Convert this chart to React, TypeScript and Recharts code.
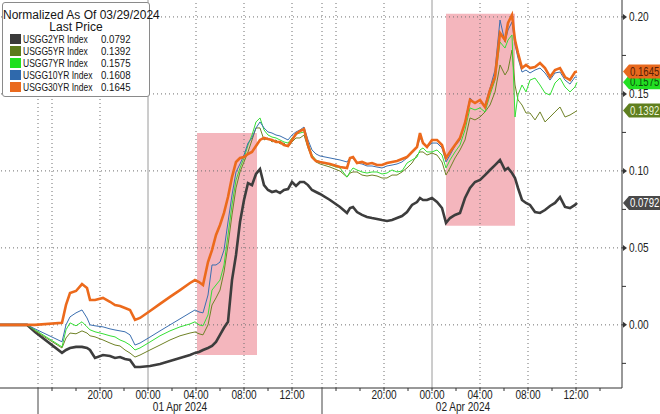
import React from 'react';
import { LineChart, Line, XAxis, YAxis, ReferenceArea, ReferenceLine } from 'recharts';

// x: minutes since 01 Apr 2024 00:00 on the session-compressed intraday axis
const minutes = [
  -740, -605, -565, -430, -410, -390, -360, -330, -305, -290, -265, -225, -190, -165, -140, -115, -90, -65, -40,
  10, 60, 110, 160, 210, 235, 255, 275, 300, 320, 340, 360, 380, 400, 420, 440, 460, 480, 500, 520, 540, 560,
  580, 600, 620, 640, 660, 680, 700, 720, 740, 760, 780, 800, 820, 840, 860, 910, 960, 995, 1010, 1025, 1045,
  1070, 1095, 1120, 1145, 1170, 1195, 1220, 1245, 1270, 1295, 1320, 1345, 1360, 1375, 1395, 1420, 1445, 1470,
  1490, 1510, 1535, 1560, 1585, 1610, 1635, 1660, 1685, 1710, 1735, 1760, 1785, 1800, 1820, 1835, 1850, 1870,
  1890, 1910, 1935, 1960, 1985, 2010, 2035, 2060, 2085, 2110, 2135, 2145,
];

const usgg2yr = [
  0, 0, -0.0046, -0.0182, -0.0163, -0.015, -0.0143, -0.0143, -0.015, -0.0163, -0.0215, -0.0196, -0.0202, -0.0215, -0.0209, -0.0222, -0.0228, -0.0274, -0.0274,
  -0.0267, -0.0254, -0.0235, -0.0215, -0.0196, -0.0182, -0.0176, -0.0163, -0.015, -0.0137, -0.0111, -0.0065, -0.0019, 0.002, 0.0291, 0.0454, 0.0668, 0.0811, 0.0921, 0.0908, 0.098, 0.1012,
  0.0908, 0.0876, 0.0863, 0.087, 0.0856, 0.0876, 0.0882, 0.0928, 0.0902, 0.0928, 0.0928, 0.0908, 0.0876, 0.0863, 0.085, 0.0811, 0.0766, 0.0727, 0.0759, 0.0766, 0.0733,
  0.0714, 0.0701, 0.0694, 0.0688, 0.0681, 0.0675, 0.0681, 0.0694, 0.0707, 0.0733, 0.0779, 0.0798, 0.0824, 0.0811, 0.0811, 0.0824, 0.0798, 0.0759,
  0.0662, 0.0694, 0.0714, 0.0727, 0.0824, 0.0889, 0.0928, 0.0941, 0.0973, 0.1006, 0.1038, 0.1071, 0.1006, 0.1019, 0.0986, 0.0954, 0.0889, 0.0811,
  0.0792, 0.0779, 0.0733, 0.0727, 0.0746, 0.0772, 0.0792, 0.083, 0.0766, 0.0759, 0.0779, 0.0792,
];

const usgg5yr = [
  0, 0, -0.0039, -0.015, -0.0085, -0.0053, -0.0058, -0.0039, -0.0053, -0.0071, -0.0078, -0.0098, -0.0118, -0.0131, -0.0137, -0.0163, -0.0183, -0.0209, -0.0196,
  -0.0163, -0.0131, -0.0098, -0.0071, -0.0053, -0.0046, -0.0058, -0.0065, 0, 0.0129, 0.0175, 0.0226, 0.0343, 0.0519, 0.0714, 0.0889, 0.0993, 0.1058, 0.1123, 0.1201, 0.1279, 0.1279,
  0.1201, 0.1214, 0.1188, 0.1201, 0.1175, 0.1181, 0.1155, 0.1188, 0.1214, 0.1214, 0.1233, 0.1149, 0.1084, 0.1058, 0.1045, 0.1025, 0.0999, 0.096, 0.0986, 0.0993, 0.0993,
  0.0973, 0.0967, 0.0973, 0.0967, 0.0954, 0.0954, 0.0973, 0.0973, 0.0993, 0.1019, 0.1051, 0.1103, 0.1123, 0.1123, 0.1103, 0.1116, 0.1103, 0.1058,
  0.0973, 0.1019, 0.1084, 0.1136, 0.1201, 0.1344, 0.1331, 0.135, 0.1383, 0.1428, 0.1512, 0.1688, 0.1623, 0.1655, 0.1785, 0.1558, 0.1461, 0.1428,
  0.1376, 0.1376, 0.1331, 0.1383, 0.1318, 0.135, 0.1383, 0.1415, 0.135, 0.1363, 0.1383, 0.1392,
];

const usgg7yr = [
  0, 0, -0.0032, -0.0143, -0.0032, 0.0013, -0.0006, 0.002, -0.0013, -0.0032, -0.0045, -0.0058, -0.0071, -0.0078, -0.0098, -0.0111, -0.0131, -0.0163, -0.015,
  -0.0111, -0.0071, -0.0039, -0.0013, 0.0006, 0.002, 0, -0.0006, 0.0065, 0.0226, 0.0259, 0.0291, 0.0389, 0.0584, 0.0779, 0.0941, 0.1019, 0.1084, 0.1168, 0.1233, 0.1318, 0.1344,
  0.1266, 0.1233, 0.122, 0.1214, 0.1201, 0.1188, 0.1181, 0.1214, 0.124, 0.1246, 0.1253, 0.1181, 0.1103, 0.1071, 0.1058, 0.1038, 0.1019, 0.096, 0.0993, 0.1019, 0.1006,
  0.0993, 0.0986, 0.0993, 0.0993, 0.098, 0.0986, 0.1006, 0.0993, 0.0999, 0.1051, 0.1071, 0.109, 0.1136, 0.1149, 0.1123, 0.1123, 0.1136, 0.1103,
  0.1019, 0.1071, 0.1123, 0.1168, 0.1266, 0.1409, 0.1396, 0.1409, 0.1383, 0.1493, 0.159, 0.1837, 0.1798, 0.185, 0.1883, 0.135, 0.1493, 0.1558,
  0.1513, 0.159, 0.1603, 0.1558, 0.1506, 0.1493, 0.1571, 0.1603, 0.1545, 0.1513, 0.1545, 0.1575,
];

const usgg10yr = [
  0, 0, -0.0026, -0.011, 0, 0.0052, 0.0078, 0.0097, 0.0045, 0, -0.0006, -0.0013, -0.0026, -0.0033, -0.0039, -0.0045, -0.0065, -0.0131, -0.0118,
  -0.0079, -0.0039, 0, 0.0039, 0.0078, 0.0097, 0.0084, 0.0078, 0.0194, 0.0389, 0.0389, 0.0408, 0.0486, 0.0668, 0.0843, 0.0993, 0.1045, 0.1103, 0.1181, 0.1214, 0.1279, 0.1318,
  0.1279, 0.1253, 0.1246, 0.1233, 0.1227, 0.1214, 0.1201, 0.1233, 0.1253, 0.1266, 0.1285, 0.1201, 0.1136, 0.111, 0.1097, 0.1084, 0.1071, 0.1058, 0.1084, 0.1084, 0.1051,
  0.1045, 0.1032, 0.1032, 0.1025, 0.1019, 0.1032, 0.1038, 0.1045, 0.1058, 0.1084, 0.1116, 0.1149, 0.1214, 0.1181, 0.1155, 0.1181, 0.1181, 0.1149,
  0.1058, 0.1103, 0.1162, 0.1201, 0.1318, 0.1474, 0.1441, 0.1461, 0.1428, 0.1538, 0.1655, 0.198, 0.1837, 0.1915, 0.1967, 0.1818, 0.1733, 0.1642,
  0.1655, 0.1636, 0.1655, 0.1668, 0.1636, 0.159, 0.1636, 0.1642, 0.159, 0.1564, 0.161, 0.1608,
];

const usgg30yr = [
  0, 0, 0, 0.0013, 0.013, 0.0207, 0.022, 0.0265, 0.024, 0.0162, 0.0162, 0.0175, 0.015, 0.0129, 0.0123, 0.011, 0.0097, 0.0032, 0.0045,
  0.009, 0.0136, 0.0182, 0.0226, 0.0272, 0.0291, 0.0278, 0.0259, 0.0408, 0.0486, 0.0584, 0.0649, 0.0727, 0.083, 0.096, 0.1058, 0.1084, 0.109, 0.111, 0.1123, 0.1162, 0.1201,
  0.1214, 0.1207, 0.1201, 0.1188, 0.1188, 0.1168, 0.1162, 0.1201, 0.124, 0.1259, 0.1272, 0.1168, 0.109, 0.1064, 0.1058, 0.1045, 0.1025, 0.1019, 0.1084, 0.109, 0.1051,
  0.1058, 0.1045, 0.1051, 0.1038, 0.1038, 0.1051, 0.1058, 0.1064, 0.1077, 0.109, 0.1123, 0.1155, 0.1246, 0.1181, 0.1155, 0.1201, 0.1201, 0.1168,
  0.1084, 0.1123, 0.1168, 0.1214, 0.1311, 0.1461, 0.1441, 0.1461, 0.1415, 0.1525, 0.161, 0.1896, 0.185, 0.1961, 0.2013, 0.185, 0.1766, 0.1668,
  0.1688, 0.1668, 0.1675, 0.1701, 0.1668, 0.161, 0.1655, 0.1668, 0.161, 0.159, 0.1642, 0.1645,
];

const seriesKeys = ['usgg2yr', 'usgg5yr', 'usgg7yr', 'usgg10yr', 'usgg30yr'];
const seriesNames = ['USGG2YR Index', 'USGG5YR Index', 'USGG7YR Index', 'USGG10YR Index', 'USGG30YR Index'];
const lastPrices = [0.0792, 0.1392, 0.1575, 0.1608, 0.1645];
const seriesColors = ['#3d3d3d', '#6f8226', '#35e035', '#3b6fb0', '#ec6a1c'];
const swatchColors = ['#3a3a3a', '#5b7a1c', '#1fe01f', '#2f69ac', '#ea6a1e'];
const seriesWidths = [2.6, 1, 1, 1, 2.6];
const tagFills = ['#4a4a4a', '#5f7f1f', '#22e022', null, '#e8691e'];
const tagTexts = ['#ffffff', '#eef5d8', '#0b4d0b', null, '#5a1e05'];

const legendTitle = 'Normalized As Of 03/29/2024';
const legendSubtitle = 'Last Price';

const timeTicks = [-480, -360, -240, -120, 0, 120, 240, 360, 480, 600, 720, 940, 1060, 1180, 1300, 1420, 1540, 1660, 1780, 1900, 2020, 2140, 2260];
const timeTickLabels: Record<number, string> = {
  [-240]: '20:00', 0: '00:00', 240: '04:00', 480: '08:00', 720: '12:00',
  1180: '20:00', 1420: '00:00', 1660: '04:00', 1900: '08:00', 2140: '12:00',
};
const dateTicks = [160, 1575];
const dateLabels = ['01 Apr 2024', '02 Apr 2024'];
const sessionBreaks = [-550, 870];
const dayStarts = [0, 1420];
const gridTimes = [-550, -480, -240, 240, 480, 720, 870, 940, 1180, 1660, 1900, 2140];
const valueTicks = [-0.025, 0, 0.025, 0.05, 0.075, 0.1, 0.125, 0.15, 0.175, 0.2];
const gridValues = [0, 0.05, 0.1, 0.15, 0.2];
const highlightWindows = [
  { x1: 245, x2: 545, y1: -0.0196, y2: 0.1246 },
  { x1: 1490, x2: 1835, y1: 0.0643, y2: 0.202 },
];

const data = minutes.map((m, i) => ({
  m,
  usgg2yr: usgg2yr[i],
  usgg5yr: usgg5yr[i],
  usgg7yr: usgg7yr[i],
  usgg10yr: usgg10yr[i],
  usgg30yr: usgg30yr[i],
}));

const FONT = "'Liberation Sans', Arial, sans-serif";
const X_DOMAIN: [number, number] = [-740, 2370];
const Y_DOMAIN: [number, number] = [-0.041, 0.211];

const NarrowText = (p: any) => {
  const { x, y, sx, anchor, size, color, children } = p;
  return (
    <text
      x={x}
      y={y}
      textAnchor={anchor || 'start'}
      fontSize={size || 12}
      fontFamily={FONT}
      fill={color || '#222'}
      transform={`translate(${x},0) scale(${sx},1) translate(${-x},0)`}
    >
      {children}
    </text>
  );
};

const ValueTick = (props: any) => {
  const { x, y, payload } = props;
  const v = payload.value as number;
  const major = Math.abs(Math.round(v / 0.05) * 0.05 - v) < 1e-9;
  if (!major) {
    return <line x1={x} x2={x + 4} y1={y} y2={y} stroke="#333" strokeWidth={1} />;
  }
  return (
    <g>
      <line x1={x} x2={x + 2} y1={y} y2={y} stroke="#333" />
      <path d={`M${x + 1},${y - 3} L${x + 5},${y} L${x + 1},${y + 3} Z`} fill="#333" />
      <NarrowText x={x + 7} y={y + 4} sx={0.84}>{v.toFixed(2)}</NarrowText>
    </g>
  );
};

const TimeTick = (props: any) => {
  const { x, y, payload } = props;
  const label = timeTickLabels[payload.value as number];
  if (!label) return null;
  return <NarrowText x={x} y={y + 7} sx={0.84} anchor="middle">{label}</NarrowText>;
};

const DateTick = (props: any) => {
  const { x, y, payload } = props;
  const v = payload.value as number;
  if (sessionBreaks.indexOf(v) >= 0) {
    return <line x1={x} x2={x} y1={y - 14} y2={y + 12} stroke="#444" strokeWidth={1} />;
  }
  const di = dateTicks.indexOf(v);
  if (di < 0) return null;
  return <NarrowText x={x} y={y + 9} sx={0.84} anchor="middle">{dateLabels[di]}</NarrowText>;
};

const makeTag = (i: number) => (props: any) => {
  const vb = props.viewBox;
  if (!vb) return null;
  const x = vb.x + vb.width;
  const y = vb.y;
  return (
    <g>
      <path d={`M${x + 1},${y} L${x + 7},${y - 7} H660 V${y + 7} H${x + 7} Z`} fill={tagFills[i] as string} />
      <NarrowText x={x + 8} y={y + 4} sx={0.8} color={tagTexts[i]}>{lastPrices[i].toFixed(4)}</NarrowText>
    </g>
  );
};

export default function App() {
  const tagOrder = [0, 1, 2, 4];
  return (
    <div style={{ position: 'absolute', left: 0, top: 0, width: 660, height: 414, background: '#fff', overflow: 'hidden' }}>
      <LineChart width={660} height={414} data={data} margin={{ top: 0, right: 0, bottom: 0, left: 0 }}>
        <XAxis
          dataKey="m"
          type="number"
          domain={X_DOMAIN}
          allowDataOverflow
          ticks={timeTicks}
          interval={0}
          tick={<TimeTick />}
          tickSize={3}
          tickMargin={1}
          height={14}
          axisLine={{ stroke: '#333' }}
          tickLine={{ stroke: '#333' }}
        />
        <XAxis
          xAxisId="date"
          dataKey="m"
          type="number"
          domain={X_DOMAIN}
          allowDataOverflow
          ticks={[...sessionBreaks, ...dateTicks]}
          interval={0}
          tick={<DateTick />}
          tickSize={0}
          tickMargin={0}
          height={12}
          axisLine={false}
          tickLine={false}
        />
        <YAxis
          orientation="right"
          type="number"
          domain={Y_DOMAIN}
          allowDataOverflow
          ticks={valueTicks}
          interval={0}
          width={38}
          tick={<ValueTick />}
          tickSize={0}
          tickMargin={0}
          tickLine={false}
          axisLine={{ stroke: '#333' }}
        />
        {highlightWindows.map((w, i) => (
          <ReferenceArea key={`hw${i}`} x1={w.x1} x2={w.x2} y1={w.y1} y2={w.y2} fill="#f3aeb6" fillOpacity={0.9} stroke="none" />
        ))}
        {gridValues.map((v) => (
          <ReferenceLine key={`gy${v}`} y={v} stroke="#6f6f6f" strokeDasharray="1 3" />
        ))}
        {gridTimes.map((t) => (
          <ReferenceLine key={`gx${t}`} x={t} stroke="#6f6f6f" strokeDasharray="1 3" />
        ))}
        {dayStarts.map((t) => (
          <ReferenceLine key={`ds${t}`} x={t} stroke="#9a9a9a" strokeWidth={1} />
        ))}
        {seriesKeys.map((k, i) => (
          <Line
            key={k}
            dataKey={k}
            type="linear"
            stroke={seriesColors[i]}
            strokeWidth={seriesWidths[i]}
            dot={false}
            activeDot={false}
            isAnimationActive={false}
          />
        ))}
        {tagOrder.map((i) => (
          <ReferenceLine key={`tag${i}`} y={lastPrices[i]} stroke="none" label={makeTag(i)} />
        ))}
      </LineChart>
      <div
        style={{
          position: 'absolute', left: 2, top: 2, width: 146, height: 93,
          border: '1px solid #8a8a8a', borderRadius: 3, background: '#fff',
          fontFamily: FONT, color: '#151515',
        }}
      >
        <div style={{ position: 'absolute', top: 6, left: 0, width: '100%', textAlign: 'center', fontSize: 12, lineHeight: '12px', whiteSpace: 'nowrap' }}>
          {legendTitle}
        </div>
        <div style={{ position: 'absolute', top: 18, left: 0, width: '100%', textAlign: 'center', fontSize: 12, lineHeight: '12px' }}>
          {legendSubtitle}
        </div>
        {seriesNames.map((n, i) => (
          <div key={n} style={{ position: 'absolute', top: 30 + i * 12, left: 0, height: 12, width: '100%', fontSize: 11.5, lineHeight: '12px', whiteSpace: 'nowrap' }}>
            <span style={{ position: 'absolute', left: 7, top: 1, width: 11, height: 10, background: swatchColors[i] }} />
            <span style={{ position: 'absolute', left: 20, top: 0, display: 'inline-block', transform: 'scaleX(0.74)', transformOrigin: 'left center' }}>{n}</span>
            <span style={{ position: 'absolute', left: 98, top: 0, display: 'inline-block', transform: 'scaleX(0.84)', transformOrigin: 'left center' }}>{lastPrices[i].toFixed(4)}</span>
          </div>
        ))}
      </div>
    </div>
  );
}
